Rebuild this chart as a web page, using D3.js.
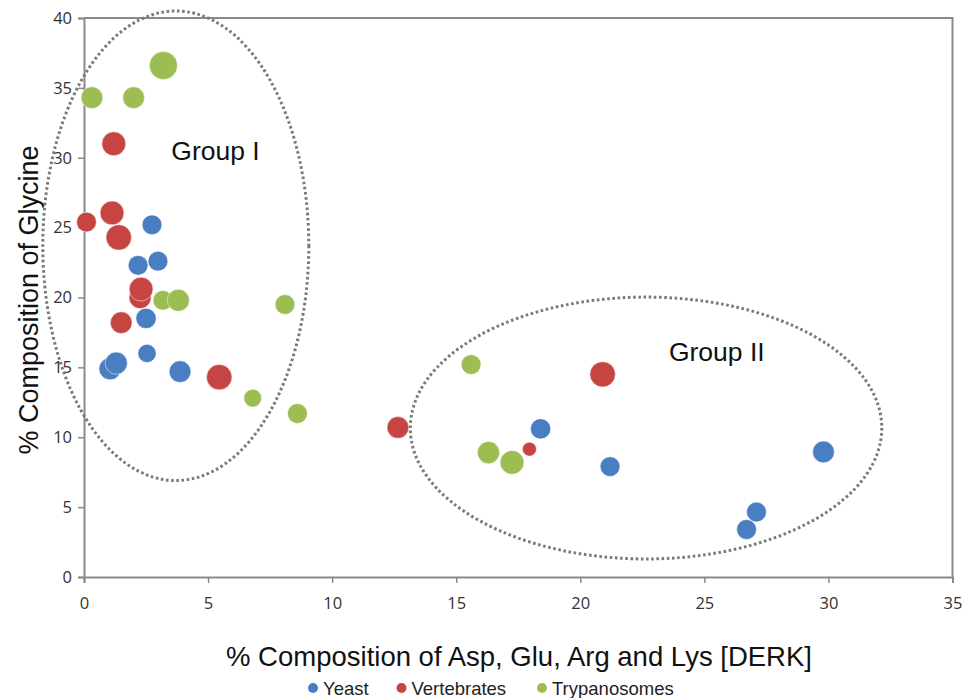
<!DOCTYPE html>
<html>
<head>
<meta charset="utf-8">
<script src="https://cdn.jsdelivr.net/npm/d3@7"></script>
<style>
  html, body { margin: 0; padding: 0; background: #fff; }
  svg { display: block; font-family: "Liberation Sans", Arial, sans-serif; }
</style>
</head>
<body>
<svg id="chart" width="964" height="698"></svg>
<script>
// series data: [x (% DERK), y (% glycine), bubble size]
const yeast = [
  [2.74, 25.2, 2.0], [2.18, 22.3, 2.0], [2.98, 22.6, 2.0], [2.5, 18.5, 2.1],
  [2.54, 16.0, 1.7], [1.05, 14.9, 2.5], [1.3, 15.3, 2.5], [3.87, 14.7, 2.4],
  [18.4, 10.6, 2.1], [21.2, 7.9, 2.0], [29.8, 8.95, 2.4], [27.1, 4.65, 2.0],
  [26.7, 3.4, 2.0]
];
const vertebrates = [
  [0.1, 25.4, 2.0], [1.2, 31.0, 2.9], [1.13, 26.05, 2.9], [1.4, 24.3, 3.3],
  [2.26, 20.0, 2.5], [2.3, 20.6, 2.9], [1.5, 18.2, 2.4], [5.45, 14.3, 3.3],
  [12.65, 10.7, 2.4], [17.95, 9.15, 1.0], [20.9, 14.5, 3.3]
];
const trypanosomes = [
  [0.32, 34.3, 2.4], [2.0, 34.3, 2.4], [3.2, 36.6, 4.0], [3.18, 19.8, 2.0],
  [3.8, 19.8, 2.5], [8.1, 19.5, 2.0], [6.8, 12.8, 1.6], [8.6, 11.7, 2.0],
  [15.6, 15.2, 2.0], [16.3, 8.9, 2.5], [17.25, 8.2, 2.9]
];

const seriesNames = ['Yeast', 'Vertebrates', 'Trypanosomes'];
const seriesColors = ['#4A7EC2', '#C64542', '#9BBD52'];
const xTicks = [0, 5, 10, 15, 20, 25, 30, 35];
const yTicks = [0, 5, 10, 15, 20, 25, 30, 35, 40];

// dotted group outlines: center x, center y, radius x, radius y (data units)
const groups = [
  { label: 'Group I', cx: 3.7, cy: 23.7, rx: 5.36, ry: 16.8, lx: 5.3, ly: 30.34 },
  { label: 'Group II', cx: 22.65, cy: 10.66, rx: 9.5, ry: 9.37, lx: 25.5, ly: 15.96 }
];

const svg = d3.select('#chart');
const margin = { top: 18, right: 11.5, bottom: 121, left: 84 };
const width = 964, height = 698;

const x = d3.scaleLinear().domain([0, 35]).range([margin.left, width - margin.right]);
const y = d3.scaleLinear().domain([0, 40]).range([height - margin.bottom, margin.top]);
const r = d3.scaleSqrt().domain([0, 4]).range([0, 14]);

const axisColor = '#8a8a8a';

// plot frame (top and right)
svg.append('path')
  .attr('d', `M${x(0)},${y(40)}H${x(35)}V${y(0)}`)
  .attr('fill', 'none')
  .attr('stroke', axisColor)
  .attr('stroke-width', 2);

const xAxis = svg.append('g')
  .attr('transform', `translate(0,${y(0)})`)
  .call(d3.axisBottom(x).tickValues(xTicks).tickSizeOuter(0).tickSize(6).tickPadding(14));
const yAxis = svg.append('g')
  .attr('transform', `translate(${x(0)},0)`)
  .call(d3.axisLeft(y).tickValues(yTicks).tickSizeOuter(0).tickSize(6).tickPadding(6));

[xAxis, yAxis].forEach(g => {
  g.select('.domain').attr('stroke', axisColor).attr('stroke-width', 2);
  g.selectAll('.tick line').attr('stroke', axisColor).attr('stroke-width', 1.5);
  g.selectAll('.tick text')
    .attr('fill', '#333')
    .style('font-size', '16.5px')
    .style('font-family', '"Open Sans", "Liberation Sans", sans-serif');
});

// bubbles
const allSeries = [yeast, vertebrates, trypanosomes];
allSeries.forEach((data, i) => {
  svg.append('g')
    .selectAll('circle')
    .data(data)
    .join('circle')
    .attr('cx', d => x(d[0]))
    .attr('cy', d => y(d[1]))
    .attr('r', d => r(d[2]))
    .attr('fill', seriesColors[i])
    .attr('stroke', '#fff')
    .attr('stroke-opacity', 0.5)
    .attr('stroke-width', 1);
});

// group outlines
svg.append('g')
  .selectAll('ellipse')
  .data(groups)
  .join('ellipse')
  .attr('cx', d => x(d.cx))
  .attr('cy', d => y(d.cy))
  .attr('rx', d => x(d.rx) - x(0))
  .attr('ry', d => y(0) - y(d.ry))
  .attr('fill', 'none')
  .attr('stroke', '#7a7a7a')
  .attr('stroke-width', 3)
  .attr('stroke-dasharray', '2.6 2.6');

svg.append('g')
  .selectAll('text')
  .data(groups)
  .join('text')
  .attr('x', d => x(d.lx))
  .attr('y', d => y(d.ly))
  .attr('text-anchor', 'middle')
  .attr('dominant-baseline', 'middle')
  .style('font-size', '26.5px')
  .attr('fill', '#111')
  .text(d => d.label);

// axis titles
svg.append('text')
  .attr('x', 519)
  .attr('y', 666)
  .attr('text-anchor', 'middle')
  .style('font-size', '27.5px')
  .attr('fill', '#111')
  .text('% Composition of Asp, Glu, Arg and Lys [DERK]');

svg.append('text')
  .attr('transform', `translate(38,300) rotate(-90)`)
  .attr('text-anchor', 'middle')
  .style('font-size', '27px')
  .attr('fill', '#111')
  .text('% Composition of Glycine');

// legend
const legendX = [313, 401.5, 542];
const legend = svg.append('g')
  .selectAll('g')
  .data(seriesNames)
  .join('g')
  .attr('transform', (d, i) => `translate(${legendX[i]},688)`);
legend.append('circle').attr('r', 5).attr('fill', (d, i) => seriesColors[i]);
legend.append('text')
  .attr('x', 10)
  .attr('dy', '0.36em')
  .style('font-size', '18.5px')
  .attr('fill', '#222')
  .text(d => d);
</script>
</body>
</html>
